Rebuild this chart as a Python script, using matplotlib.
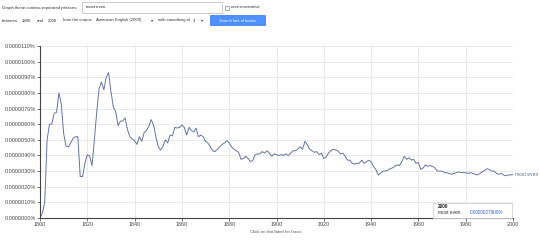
import matplotlib
matplotlib.use("Agg")
import matplotlib.pyplot as plt
from matplotlib.patches import Rectangle
import numpy as np

plt.rcParams['font.family'] = ['Liberation Sans', 'DejaVu Sans']

# ngram values, in units of 0.0000001% (1 = 0.0000010% tick)
years = np.arange(1800, 2001)
values = [
    0.0, 0.3, 1.0, 5.0, 6.0, 6.0, 6.7, 6.75, 8.0, 7.3,            # 1800s
    5.4, 4.6, 4.55, 4.8, 5.1, 5.2, 5.2, 2.65, 2.65, 3.5,          # 1810s
    4.05, 3.95, 3.35, 5.0, 6.8, 8.3, 8.7, 8.2, 9.0, 9.3,          # 1820s
    8.1, 7.1, 6.8, 5.9, 6.2, 6.2, 6.4, 5.65, 5.2, 5.05,           # 1830s
    4.95, 4.7, 5.2, 4.9, 5.45, 5.6, 5.85, 6.3, 5.95, 5.2,         # 1840s
    4.55, 4.35, 4.6, 5.0, 4.8, 5.3, 5.25, 5.8, 5.75, 5.8,         # 1850s
    5.95, 5.8, 5.3, 5.8, 5.6, 5.5, 5.75, 5.2, 5.3, 5.2,           # 1860s
    4.9, 4.8, 4.55, 4.3, 4.25, 4.4, 4.55, 4.7, 4.8, 4.95,         # 1870s
    4.8, 4.55, 4.4, 4.3, 4.2, 3.75, 3.8, 3.95, 3.8, 3.6,          # 1880s
    3.7, 4.05, 4.1, 4.1, 4.25, 4.15, 4.3, 4.15, 3.95, 4.1,        # 1890s
    4.05, 4.0, 4.05, 4.0, 4.1, 4.0, 4.15, 4.3, 4.3, 4.4,          # 1900s
    4.55, 4.4, 4.9, 4.7, 4.4, 4.3, 4.2, 4.25, 4.05, 4.15,         # 1910s
    3.8, 3.9, 4.15, 4.3, 4.4, 4.35, 4.3, 4.1, 4.15, 3.95,         # 1920s
    3.7, 3.7, 3.5, 3.45, 3.5, 3.5, 3.7, 3.5, 3.6, 3.7,            # 1930s
    3.6, 3.3, 3.1, 2.75, 2.85, 3.0, 3.0, 3.05, 3.15, 3.2,         # 1940s
    3.3, 3.4, 3.35, 3.6, 3.95, 3.75, 3.85, 3.7, 3.75, 3.5,        # 1950s
    3.55, 3.1, 3.2, 3.4, 3.3, 3.35, 3.3, 3.2, 3.0, 3.0,           # 1960s
    3.0, 2.9, 2.9, 2.85, 2.8, 2.85, 2.9, 2.95, 2.9, 2.9,          # 1970s
    2.9, 2.85, 2.9, 2.85, 2.8, 2.75, 2.85, 2.95, 3.05, 3.15,      # 1980s
    3.1, 3.0, 3.0, 2.85, 2.8, 2.85, 2.75, 2.7, 2.75, 2.75,        # 1990s
    2.79,                                                          # 2000
]
phrase = "most even"
y_ticks = list(range(0, 12))
x_ticks = list(range(1800, 2001, 20))

W, H = 540, 242
fig = plt.figure(figsize=(W / 100, H / 100), dpi=100)
fig.patch.set_facecolor("white")

def px(x, y):
    # pixel coords (top-left origin) -> figure fraction
    return x / W, 1 - y / H

# ---- search form on top ----
tc = "#333333"
fs = 3.1
fig.text(*px(2, 7.5), "Graph these comma-separated phrases:", fontsize=fs, color=tc, va="center")
fig.patches.append(Rectangle(px(82, 13), 140 / W, 11 / H, transform=fig.transFigure,
                             fc="white", ec="#bbbbbb", lw=0.5))
fig.text(*px(86, 7.5), phrase, fontsize=fs, color="#222222", va="center")
fig.patches.append(Rectangle(px(224.5, 10), 4 / W, 4 / H, transform=fig.transFigure,
                             fc="white", ec="#888888", lw=0.5))
fig.text(*px(231, 7.5), "case-insensitive", fontsize=fs, color=tc, va="center")

fig.text(*px(2, 20.5), "between", fontsize=fs, color=tc, va="center")
fig.text(*px(22, 20.5), "1800", fontsize=fs, color=tc, va="center")
fig.text(*px(37, 20.5), "and", fontsize=fs, color=tc, va="center")
fig.text(*px(48, 20.5), "2000", fontsize=fs, color=tc, va="center")
fig.text(*px(63, 20.5), "from the corpus", fontsize=fs, color=tc, va="center")
fig.text(*px(96, 20.5), "American English (2009)", fontsize=fs, color=tc, va="center")
fig.text(*px(151, 20.5), "\u25BE", fontsize=fs, color=tc, va="center")
fig.text(*px(158, 20.5), "with smoothing of", fontsize=fs, color=tc, va="center")
fig.text(*px(193, 20.5), "3", fontsize=fs, color=tc, va="center")
fig.text(*px(201, 20.5), "\u25BE", fontsize=fs, color=tc, va="center")
fig.patches.append(Rectangle(px(210, 25), 55 / W, 10 / H, transform=fig.transFigure,
                             fc="#4d90fe", ec="#3079ed", lw=0.5))
fig.text(*px(237.5, 20.5), "Search lots of books", fontsize=fs - 0.1, color="white",
         va="center", ha="center")

# ---- chart ----
left, top, right, bottom = 40, 46, 513, 218
ax = fig.add_axes([left / W, 1 - bottom / H, (right - left) / W, (bottom - top) / H])
ax.plot(years, values, color="#6474a4", lw=0.7)

ax.set_xlim(1800, 2000)
ax.set_ylim(0, 11)
ax.set_xticks(x_ticks)
ax.set_yticks(y_ticks)
ax.set_yticklabels([f"{v * 1e-6:.7f}%" for v in y_ticks])
ax.grid(True, color="#e6e6e6", lw=0.6)
ax.set_axisbelow(True)
for s in ("top", "right"):
    ax.spines[s].set_visible(False)
for s in ("left", "bottom"):
    ax.spines[s].set_color("#444444")
    ax.spines[s].set_linewidth(0.8)
ax.tick_params(labelsize=3.9, colors="#444444", length=2, width=0.5, pad=1)

ax.text(2001, values[-1], phrase, fontsize=3.6, color="#6474a4", va="center",
        ha="left", clip_on=False)
fig.text(*px(276, 232), "Click on line/label for focus", fontsize=3.2, color="#555555",
         ha="center", va="center")

# tooltip at 2000
ax.axvline(2000, ymin=0, ymax=0.9, color="#bbbbbb", lw=0.6)
fig.patches.append(Rectangle(px(433, 218), 79 / W, 15 / H, transform=fig.transFigure,
                             fc="white", ec="#cccccc", lw=0.5, zorder=5))
fig.text(*px(438, 206.5), "2000", fontsize=3.4, color="#222222", weight="bold", va="center", zorder=6)
fig.text(*px(438, 212.5), phrase, fontsize=3.4, color="#333333", va="center", zorder=6)
fig.text(*px(470, 212.5), f"{values[-1] * 1e-6:.10f}%", fontsize=3.4, color="#3366cc",
         va="center", zorder=6)

fig.savefig("out.png", dpi=100, facecolor="white")
